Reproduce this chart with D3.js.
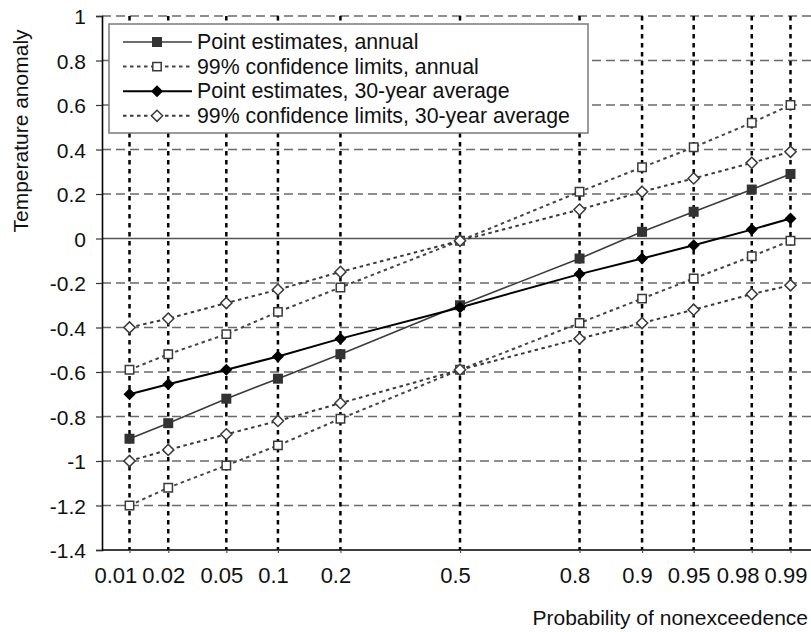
<!DOCTYPE html>
<html>
<head>
<meta charset="utf-8">
<script src="https://cdn.jsdelivr.net/npm/d3@7"></script>
<style>
  html, body { margin: 0; padding: 0; background: #fff; }
  svg { display: block; font-family: "Liberation Sans", Arial, sans-serif; }
</style>
</head>
<body>
<svg id="chart" width="811" height="632"></svg>
<script>
// Probabilities of nonexceedence (plotted on a normal-probability axis)
const probs = [0.01, 0.02, 0.05, 0.1, 0.2, 0.5, 0.8, 0.9, 0.95, 0.98, 0.99];
const xTickLabels = ["0.01", "0.02", "0.05", "0.1", "0.2", "0.5", "0.8", "0.9", "0.95", "0.98", "0.99"];
const yTicks = [1, 0.8, 0.6, 0.4, 0.2, 0, -0.2, -0.4, -0.6, -0.8, -1, -1.2, -1.4];

// Temperature anomaly quantiles
const annualPoint = [-0.90, -0.83, -0.72, -0.63, -0.52, -0.30, -0.09, 0.03, 0.12, 0.22, 0.29];
const annualUpper = [-0.59, -0.52, -0.43, -0.33, -0.22, -0.01, 0.21, 0.32, 0.41, 0.52, 0.60];
const annualLower = [-1.20, -1.12, -1.02, -0.93, -0.81, -0.59, -0.38, -0.27, -0.18, -0.08, -0.01];
const avg30Point  = [-0.70, -0.655, -0.59, -0.53, -0.45, -0.31, -0.16, -0.09, -0.03, 0.04, 0.09];
const avg30Upper  = [-0.40, -0.36, -0.29, -0.23, -0.15, -0.01, 0.13, 0.21, 0.27, 0.34, 0.39];
const avg30Lower  = [-1.00, -0.95, -0.88, -0.82, -0.74, -0.59, -0.45, -0.38, -0.32, -0.25, -0.21];

const legendLabels = [
  "Point estimates, annual",
  "99% confidence limits, annual",
  "Point estimates, 30-year average",
  "99% confidence limits, 30-year average"
];

// Inverse standard normal CDF (Acklam's rational approximation)
function probit(p) {
  const a = [-3.969683028665376e+01, 2.209460984245205e+02, -2.759285104469687e+02,
             1.383577518672690e+02, -3.066479806614716e+01, 2.506628277459239e+00];
  const b = [-5.447609879822406e+01, 1.615858368580409e+02, -1.556989798598866e+02,
             6.680131188771972e+01, -1.328068155288572e+01];
  const c = [-7.784894002430293e-03, -3.223964580411365e-01, -2.400758277161838e+00,
             -2.549732539343734e+00, 4.374664141464968e+00, 2.938163982698783e+00];
  const d = [7.784695709041462e-03, 3.224671290700398e-01, 2.445134137142996e+00,
             3.754408661907416e+00];
  const pl = 0.02425, ph = 1 - pl;
  let q, r;
  if (p < pl) {
    q = Math.sqrt(-2 * Math.log(p));
    return (((((c[0]*q+c[1])*q+c[2])*q+c[3])*q+c[4])*q+c[5]) /
           ((((d[0]*q+d[1])*q+d[2])*q+d[3])*q+1);
  }
  if (p > ph) {
    q = Math.sqrt(-2 * Math.log(1 - p));
    return -(((((c[0]*q+c[1])*q+c[2])*q+c[3])*q+c[4])*q+c[5]) /
            ((((d[0]*q+d[1])*q+d[2])*q+d[3])*q+1);
  }
  q = p - 0.5; r = q * q;
  return (((((a[0]*r+a[1])*r+a[2])*r+a[3])*r+a[4])*r+a[5])*q /
         (((((b[0]*r+b[1])*r+b[2])*r+b[3])*r+b[4])*r+1);
}

const svg = d3.select("#chart");
const W = 811;
const plot = { left: 102, top: 16, bottom: 550, right: 818 };

const x = d3.scaleLinear().domain([-2.52, 2.52]).range([plot.left, plot.right]);
const y = d3.scaleLinear().domain([-1.4, 1]).range([plot.bottom, plot.top]);
const px = p => x(probit(p));

// Horizontal dashed gridlines
svg.append("g").selectAll("line")
  .data(yTicks.filter(v => v !== 0 && v !== -1.4))
  .join("line")
  .attr("x1", plot.left).attr("x2", W)
  .attr("y1", d => y(d)).attr("y2", d => y(d))
  .attr("stroke", "#6a6a6a").attr("stroke-width", 1.3)
  .attr("stroke-dasharray", "9,5");

// Zero reference line
svg.append("line")
  .attr("x1", plot.left).attr("x2", W)
  .attr("y1", y(0)).attr("y2", y(0))
  .attr("stroke", "#555").attr("stroke-width", 1.5);

// Vertical dotted lines at each probability
svg.append("g").selectAll("line")
  .data(probs)
  .join("line")
  .attr("x1", d => px(d)).attr("x2", d => px(d))
  .attr("y1", plot.top).attr("y2", plot.bottom)
  .attr("stroke", "#000").attr("stroke-width", 2.5)
  .attr("stroke-dasharray", "4.5,4.5");

// Y axis
const yAxis = svg.append("g")
  .attr("transform", `translate(${plot.left},0)`)
  .call(d3.axisLeft(y).tickValues(yTicks).tickSize(6).tickPadding(10)
        .tickFormat(d => String(d)));
yAxis.select(".domain").attr("stroke", "#000").attr("stroke-width", 1.6);
yAxis.selectAll(".tick line").attr("stroke", "#333").attr("stroke-width", 1.2);
yAxis.selectAll(".tick text")
  .attr("font-size", 21).attr("fill", "#111")
  .attr("font-family", "Liberation Sans, Arial, sans-serif")
  .attr("dy", "0.36em");

// X axis (normal probability scale)
const xAxis = svg.append("g")
  .attr("transform", `translate(0,${plot.bottom})`)
  .call(d3.axisBottom(x).tickValues(probs.map(probit)).tickSize(3).tickPadding(14)
        .tickSizeOuter(0)
        .tickFormat((d, i) => xTickLabels[i]));
xAxis.select(".domain").attr("stroke", "#000").attr("stroke-width", 1.6)
  .attr("d", `M${plot.left},0H${W}`);
xAxis.selectAll(".tick line").attr("stroke", "#555").attr("stroke-width", 1.2);
const xt = xAxis.selectAll(".tick text")
  .attr("font-size", 22).attr("fill", "#111")
  .attr("font-family", "Liberation Sans, Arial, sans-serif")
  .attr("dx", -5);

// Keep neighbouring x labels apart: nudge a label left when it would touch the next one
{
  const nodes = xt.nodes();
  const gap = 5;
  const shift = new Array(nodes.length).fill(-5);
  const centre = nodes.map((n, i) => px(probs[i]) - 5);
  const half = nodes.map(n => n.getComputedTextLength() / 2);
  for (let i = nodes.length - 2; i >= 0; i--) {
    const limit = centre[i + 1] - half[i + 1] - gap - half[i];
    if (centre[i] > limit) {
      shift[i] += limit - centre[i];
      centre[i] = limit;
    }
  }
  nodes.forEach((n, i) => d3.select(n).attr("dx", shift[i]));
}

// Series
const series = [
  { values: annualPoint, color: "#3c3c3c", width: 1.6, dash: null, marker: "square", filled: true },
  { values: annualUpper, color: "#454545", width: 2, dash: "3.5,3.5", marker: "square", filled: false },
  { values: annualLower, color: "#454545", width: 2, dash: "3.5,3.5", marker: "square", filled: false },
  { values: avg30Point, color: "#000", width: 2, dash: null, marker: "diamond", filled: true },
  { values: avg30Upper, color: "#3a3a3a", width: 2, dash: "3.5,3.5", marker: "diamond", filled: false },
  { values: avg30Lower, color: "#3a3a3a", width: 2, dash: "3.5,3.5", marker: "diamond", filled: false }
];

const line = d3.line().x(d => px(d.p)).y(d => y(d.v));

function markerPath(kind, filled) {
  if (kind === "square") {
    const s = filled ? 5 : 4.2;
    return `M${-s},${-s}H${s}V${s}H${-s}Z`;
  }
  const s = filled ? 6 : 5.6;
  return `M0,${-s}L${s},0L0,${s}L${-s},0Z`;
}

function drawMarker(g, s, cx, cy) {
  g.append("path")
    .attr("transform", `translate(${cx},${cy})`)
    .attr("d", markerPath(s.marker, s.filled))
    .attr("fill", s.filled ? (s.marker === "square" ? "#333" : "#000") : "#fff")
    .attr("stroke", s.filled ? "none" : "#3a3a3a")
    .attr("stroke-width", 1.5);
}

const gSeries = svg.append("g");
series.forEach(s => {
  const pts = probs.map((p, i) => ({ p, v: s.values[i] }));
  gSeries.append("path")
    .attr("d", line(pts))
    .attr("fill", "none")
    .attr("stroke", s.color)
    .attr("stroke-width", s.width)
    .attr("stroke-dasharray", s.dash);
});
series.forEach(s => {
  probs.forEach((p, i) => drawMarker(gSeries, s, px(p), y(s.values[i])));
});

// Legend
const legend = svg.append("g");
legend.append("rect")
  .attr("x", 109).attr("y", 24).attr("width", 479).attr("height", 109)
  .attr("fill", "#fff").attr("stroke", "#7a7a7a").attr("stroke-width", 1.5);
const legendSeries = [series[0], series[1], series[3], series[4]];
legendSeries.forEach((s, i) => {
  const ly = 42 + i * 24.6;
  legend.append("line")
    .attr("x1", 123).attr("x2", 192).attr("y1", ly).attr("y2", ly)
    .attr("stroke", s.color).attr("stroke-width", s.width)
    .attr("stroke-dasharray", s.dash);
  drawMarker(legend, s, 157, ly);
  legend.append("text")
    .attr("x", 197).attr("y", ly).attr("dy", "0.34em")
    .attr("font-size", 21.3).attr("fill", "#111")
    .text(legendLabels[i]);
});

// Axis titles
svg.append("text")
  .attr("transform", "translate(28,131) rotate(-90)")
  .attr("text-anchor", "middle")
  .attr("font-size", 21).attr("fill", "#111")
  .text("Temperature anomaly");

svg.append("text")
  .attr("x", 808).attr("y", 625)
  .attr("text-anchor", "end")
  .attr("font-size", 21).attr("fill", "#111")
  .text("Probability of nonexceedence");
</script>
</body>
</html>
